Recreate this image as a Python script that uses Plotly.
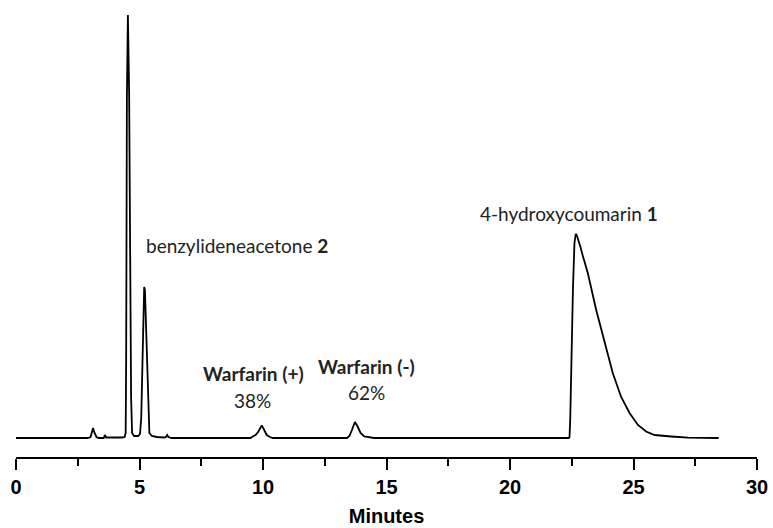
import plotly.graph_objects as go

# Digitized chromatogram (time in minutes, detector signal in arbitrary units)
time_min = [
    0.0, 2.90, 3.02, 3.08, 3.12, 3.18, 3.26, 3.35, 3.55, 3.60, 3.65,
    4.30, 4.40, 4.44, 4.46, 4.49, 4.53, 4.58, 4.63, 4.66, 4.70, 4.78, 4.95,
    5.02, 5.07, 5.10, 5.14, 5.19, 5.22, 5.27, 5.33, 5.37, 5.40, 5.50, 5.70,
    6.00, 6.07, 6.12, 6.17, 6.30,
    9.50, 9.58, 9.70, 9.80, 9.95, 10.05, 10.15, 10.28, 10.40,
    13.40, 13.50, 13.60, 13.72, 13.82, 13.95, 14.10, 14.30, 14.50,
    22.38, 22.41, 22.44, 22.48, 22.55, 22.61, 22.66, 22.70, 22.76, 22.84, 22.95,
    23.15, 23.49, 23.83, 24.16, 24.50, 24.84, 25.18, 25.51, 25.85,
    26.20, 26.53, 27.20, 28.45,
]
signal = [
    0, 0, 1, 8, 10, 5, 1, 0, 0, 3, 0.5,
    0.5, 1, 5, 78, 340, 423, 345, 150, 41, 5, 2, 2,
    4, 20, 61, 118, 151, 148, 111, 65, 20, 5, 2, 1,
    0.5, 1, 3, 1, 0,
    0, 1.5, 3, 6, 12.5, 8, 3, 1, 0,
    0, 2, 8, 16, 12, 5, 1.5, 0.5, 0,
    0, 1, 20, 85, 151, 195, 204, 203, 199, 192, 182,
    165, 128, 95, 65, 41, 25, 13, 6.5, 3,
    2, 1.5, 0.3, 0,
]

tick_vals = [0, 5, 10, 15, 20, 25, 30]
tick_text = ["0", "5", "10", "15", "20", "25", "30"]

peak_labels = [
    "benzylideneacetone <b>2</b>",
    "<b>Warfarin (+)</b>",
    "38%",
    "<b>Warfarin (-)</b>",
    "62%",
    "4-hydroxycoumarin <b>1</b>",
]
label_x = [8.95, 9.60, 9.58, 14.20, 14.20, 22.38]
label_y = [193, 65, 38, 72, 46, 225]

fig = go.Figure()
fig.add_trace(go.Scatter(
    x=time_min, y=signal, mode="lines",
    line=dict(color="black", width=1.8),
    hoverinfo="skip", showlegend=False,
))

ann_font = dict(family="Lato, Noto Sans, sans-serif", size=19, color="#222222")
for txt, ax_, ay_ in zip(peak_labels, label_x, label_y):
    fig.add_annotation(x=ax_, y=ay_, xref="x", yref="y", text=txt,
                       showarrow=False, font=ann_font,
                       xanchor="center", yanchor="middle")

axis_font = "Liberation Sans Narrow, Arial Narrow, Liberation Sans, Arial"

fig.update_layout(
    width=773, height=528,
    margin=dict(l=16, r=16, t=0, b=71),
    plot_bgcolor="white", paper_bgcolor="white",
    xaxis=dict(
        range=[0, 30], showgrid=False, zeroline=False,
        showline=True, linecolor="black", linewidth=2,
        ticks="outside", ticklen=11, tickwidth=2, tickcolor="black",
        tickvals=tick_vals, ticktext=tick_text,
        tickfont=dict(family=axis_font, size=20, color="black", weight="bold"),
        minor=dict(ticks="outside", ticklen=7, tickwidth=2, tickcolor="black",
                   dtick=2.5, tick0=0, showgrid=False),
        title=dict(text="Minutes", standoff=12,
                   font=dict(family=axis_font, size=20, color="black", weight="bold")),
    ),
    yaxis=dict(range=[-19, 438], visible=False, showgrid=False, zeroline=False),
)

fig.write_html("out.html")
